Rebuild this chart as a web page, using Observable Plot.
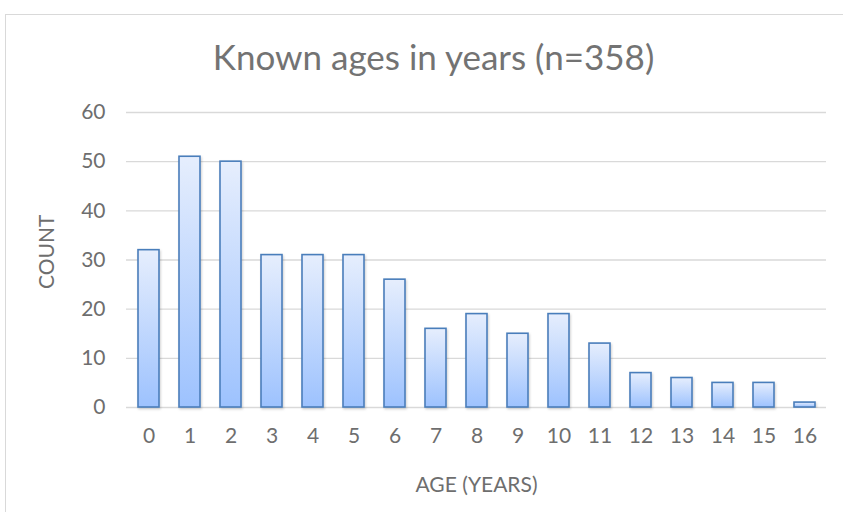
<!DOCTYPE html>
<html>
<head>
<meta charset="utf-8">
<script src="https://cdn.jsdelivr.net/npm/d3@7"></script>
<script src="https://cdn.jsdelivr.net/npm/@observablehq/plot@0.6"></script>
<style>
  html, body { margin: 0; padding: 0; background: #fff; }
  #wrap { position: relative; width: 843px; height: 512px; overflow: hidden; }
  #frame { position: absolute; left: 5px; top: 14px; width: 900px; height: 600px; border-left: 1px solid #d9d9d9; border-top: 1px solid #d9d9d9; pointer-events: none; }
  #chart { position: absolute; left: 0; top: 0; }
</style>
</head>
<body>
<div id="wrap"><div id="frame"></div><div id="chart"></div></div>
<script>
const ages = ["0","1","2","3","4","5","6","7","8","9","10","11","12","13","14","15","16"];
const counts = [32, 51, 50, 31, 31, 31, 26, 16, 19, 15, 19, 13, 7, 6, 5, 5, 1];
const yTicks = [0, 10, 20, 30, 40, 50, 60];
const title = "Known ages in years (n=358)";
const xLabel = "AGE (YEARS)";
const yLabel = "COUNT";

const data = ages.map((a, i) => ({age: a, count: counts[i]}));

const NS = "http://www.w3.org/2000/svg";
function defsMark() {
  const defs = document.createElementNS(NS, "defs");
  defs.innerHTML = `
    <linearGradient id="barGrad" x1="0" y1="0" x2="0" y2="1">
      <stop offset="0" stop-color="#e6eefd"/>
      <stop offset="1" stop-color="#9dc2fe"/>
    </linearGradient>
    <filter id="shadow" x="-30%" y="-10%" width="160%" height="130%">
      <feDropShadow dx="1" dy="1.5" stdDeviation="1.2" flood-color="#000" flood-opacity="0.18"/>
    </filter>`;
  return defs;
}

const txt = "#6e6e6e";
const plot = Plot.plot({
  width: 843,
  height: 512,
  marginLeft: 126,
  marginRight: 17,
  marginTop: 112,
  marginBottom: 105,
  style: {fontFamily: "Lato, sans-serif", fontSize: "21px", color: txt, background: "transparent"},
  x: {domain: ages, paddingInner: 0.49, paddingOuter: 0.25, label: null},
  y: {domain: [0, 60], label: null},
  marks: [
    defsMark,
    Plot.gridY(yTicks, {stroke: "#d9d9d9", strokeOpacity: 1, strokeWidth: 1.3}),
    Plot.barY(data, {x: "age", y: "count", fill: "url(#barGrad)", stroke: "#4a7ebb", strokeWidth: 1.6}),
    Plot.axisY(yTicks, {tickSize: 0, tickPadding: 21, fontSize: 21, fill: txt, label: null}),
    Plot.axisX(ages, {tickSize: 0, tickPadding: 21, fontSize: 21, fill: txt, label: null}),
    Plot.text([title], {frameAnchor: "top", dx: -43, dy: -54, fontSize: 35, fill: "#737373", lineAnchor: "middle"}),
    Plot.text([xLabel], {frameAnchor: "bottom", dy: 78, fontSize: 21, fill: txt, lineAnchor: "middle"}),
    Plot.text([yLabel], {frameAnchor: "left", dx: -79, dy: 29, rotate: -90, fontSize: 21, fill: txt, lineAnchor: "middle"})
  ]
});
plot.querySelectorAll("g[aria-label='bar'] rect").forEach(r => r.setAttribute("filter", "url(#shadow)"));
document.getElementById("chart").appendChild(plot);
</script>
</body>
</html>
